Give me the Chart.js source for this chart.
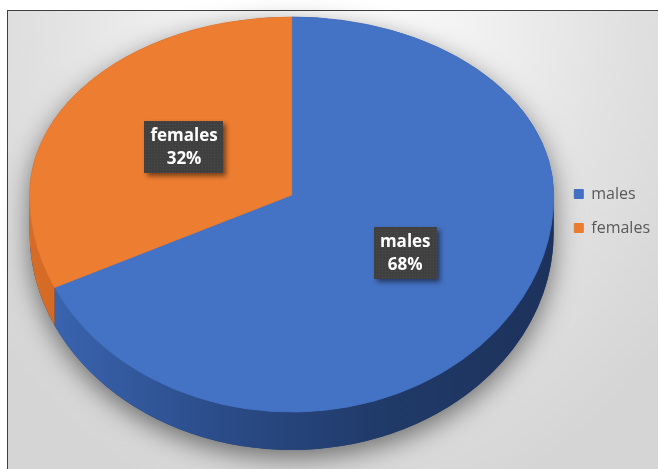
<!DOCTYPE html>
<html>
<head>
<meta charset="utf-8">
<script src="https://cdn.jsdelivr.net/npm/chart.js@4.4.0/dist/chart.umd.min.js"></script>
<style>
html, body { margin: 0; padding: 0; background: #fff; }
#wrap { position: relative; width: 658px; height: 469px; overflow: hidden; }
#frame {
    position: absolute; left: 7px; top: 10px; width: 700px; height: 500px;
    border: 1px solid #3f3f3f;
    background: radial-gradient(ellipse 430px 520px at 323px 0px, #ffffff 0%, #f4f4f4 28%, #e2e2e2 65%, #d5d5d5 100%);
}
#c { position: absolute; left: 0; top: 0; }
</style>
</head>
<body>
<div id="wrap">
    <div id="frame"></div>
    <canvas id="c" width="658" height="469"></canvas>
</div>
<script>
const categories = ['males', 'females'];
const shares = [68, 32];

// colores estilo Excel
const faceColors = ['#4472c4', '#ed7d31'];
const wallColors = [
    ['#3c67b5', '#2c4e8c', '#203a69', '#1d325b'],
    ['#d66c25', '#c85f1d', '#b7561a', '#a84c16']
];

const pieRadius = 262;
const kFar = 178 / pieRadius;   // mitad lejana (arriba) mas aplastada
const kNear = 217 / pieRadius;  // mitad cercana (abajo)
const depth = 38;
const faceLift = 16;

// textura punteada de las etiquetas
let dots = document.createElement('canvas');
dots.width = 3; dots.height = 3;
let dctx = dots.getContext('2d');
dctx.fillStyle = '#404040';
dctx.fillRect(0, 0, 3, 3);
dctx.fillStyle = '#4b4b4b';
dctx.fillRect(1, 1, 1, 1);

const pie3d = {
    id: 'pie3d',
    beforeDatasetsDraw(chart) {
        const ctx = chart.ctx;
        const arcs = chart.getDatasetMeta(0).data;
        const cx = arcs[0].x;
        const cy = Math.round(arcs[0].y - faceLift);
        const r = arcs[0].outerRadius;

        // sombra y base
        ctx.save();
        ctx.shadowColor = 'rgba(0,0,0,0.5)';
        ctx.shadowBlur = 26;
        ctx.shadowOffsetY = 8;
        ctx.fillStyle = '#1f3864';
        ctx.beginPath();
        ctx.ellipse(cx, cy, r, r * kFar, 0, Math.PI, 2 * Math.PI);
        ctx.ellipse(cx, cy + depth, r, r * kNear, 0, 0, Math.PI);
        ctx.closePath();
        ctx.fill();
        ctx.restore();

        // paredes laterales (solo la parte frontal)
        arcs.forEach((el, i) => {
            let a0 = Math.max(el.startAngle, 0);
            let a1 = Math.min(el.endAngle, Math.PI);
            if (a1 <= a0) return;
            let g = ctx.createLinearGradient(cx - r, 0, cx + r, 0);
            wallColors[i].forEach((c, j) => g.addColorStop(j / (wallColors[i].length - 1), c));
            ctx.fillStyle = g;
            ctx.beginPath();
            ctx.ellipse(cx, cy, r, r * kNear, 0, a0, a1);
            ctx.ellipse(cx, cy + depth, r, r * kNear, 0, a1, a0, true);
            ctx.closePath();
            ctx.fill();
        });

        // cara superior en dos mitades
        [[0, cy, kFar], [cy, chart.height - cy, kNear]].forEach(([top, h, k]) => {
            ctx.save();
            ctx.beginPath();
            ctx.rect(0, top, chart.width, h);
            ctx.clip();
            ctx.translate(0, cy);
            ctx.scale(1, k);
            ctx.translate(0, -arcs[0].y);
            arcs.forEach(el => el.draw(ctx));
            ctx.restore();
        });

        // etiquetas
        const total = shares.reduce((a, b) => a + b, 0);
        ctx.save();
        ctx.font = 'bold 17px "Open Sans"';
        arcs.forEach((el, i) => {
            const p = el.tooltipPosition();
            const k = p.y < el.y ? kFar : kNear;
            const x = p.x + 3;
            const y = cy + (p.y - el.y) * k;
            const lines = [categories[i], Math.round(shares[i] / total * 100) + '%'];
            const w = Math.max(...lines.map(t => ctx.measureText(t).width)) + 12;
            const h = 52;
            ctx.save();
            ctx.shadowColor = 'rgba(0,0,0,0.5)';
            ctx.shadowBlur = 5;
            ctx.shadowOffsetX = 3;
            ctx.shadowOffsetY = 3;
            ctx.fillStyle = ctx.createPattern(dots, 'repeat');
            ctx.fillRect(Math.round(x - w / 2), Math.round(y - h / 2), Math.round(w), h);
            ctx.restore();
            ctx.fillStyle = '#ffffff';
            ctx.textAlign = 'center';
            ctx.textBaseline = 'middle';
            ctx.fillText(lines[0], x, y - 11);
            ctx.fillText(lines[1], x, y + 12);
        });
        ctx.restore();
        return false;
    }
};

let ctx = document.getElementById('c').getContext('2d');
let chart = new Chart(ctx, {
    type: 'pie',
    data: {
        labels: categories,
        datasets: [{
            data: shares,
            backgroundColor: faceColors,
            borderColor: faceColors,
            borderWidth: 1,
            radius: pieRadius,
            clip: false
        }]
    },
    options: {
        responsive: false,
        animation: false,
        layout: { padding: { left: 27, right: -2, top: 0, bottom: 47 } },
        plugins: {
            tooltip: { enabled: false },
            legend: {
                position: 'right',
                labels: {
                    boxWidth: 9,
                    boxHeight: 9,
                    padding: 18,
                    color: '#595959',
                    font: { family: 'Open Sans', size: 16 }
                }
            }
        }
    },
    plugins: [pie3d]
});
</script>
</body>
</html>
